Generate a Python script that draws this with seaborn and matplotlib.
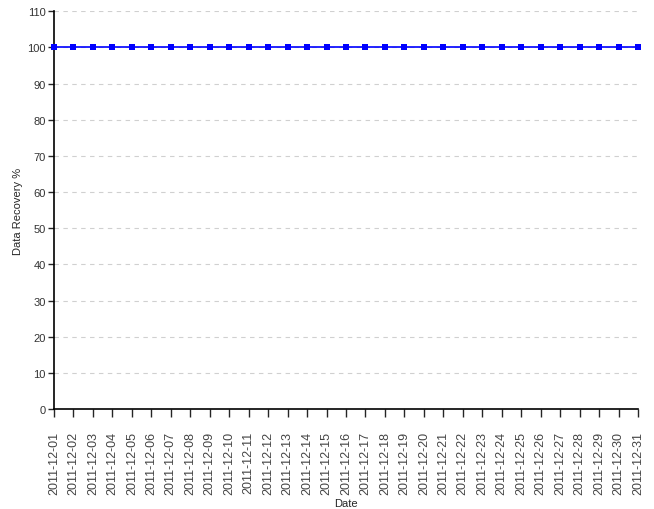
import pandas as pd
import numpy as np
import matplotlib
matplotlib.use("Agg")
import matplotlib.pyplot as plt
import seaborn as sns

# data
dates = ['2011-12-%02d' % d for d in range(1, 32)]
recovery = [100, 100, 100, 100, 100, 100, 100, 100, 100, 100,
            100, 100, 100, 100, 100, 100, 100, 100, 100, 100,
            100, 100, 100, 100, 100, 100, 100, 100, 100, 100, 100]
y_ticks = [0, 10, 20, 30, 40, 50, 60, 70, 80, 90, 100, 110]

df = pd.DataFrame({'Date': dates, 'Recovery': recovery})

sns.set_style("white")
plt.rcParams['font.family'] = ['Liberation Sans', 'DejaVu Sans']

fig, ax = plt.subplots(figsize=(6.54, 5.10), dpi=100)
fig.subplots_adjust(left=0.0826, right=0.9755, top=0.976, bottom=0.196)

sns.lineplot(ax=ax, data=df, x='Date', y='Recovery', color='#0000ff',
             marker='s', markersize=4, markeredgewidth=0, linewidth=1.2,
             errorbar=None, zorder=3, clip_on=False)

ax.set_xlim(0, len(dates) - 1)
ax.set_ylim(0, 110)
ax.set_yticks(y_ticks)
ax.yaxis.grid(True, linestyle=(0, (4, 4)), color='#d0d0d0', linewidth=0.8)
ax.set_axisbelow(True)

ax.set_xticks(range(len(dates)))
ax.set_xticklabels(dates, rotation=90, fontsize=9, color='#444444')
ax.tick_params(axis='y', labelsize=8, labelcolor='#333333', length=4.5, width=1, direction='out', left=True, pad=1.5)
ax.tick_params(axis='x', length=5.5, width=1, direction='out', bottom=True, pad=10)

ax.set_xlabel('Date', fontsize=8, labelpad=3)
ax.set_ylabel('Data Recovery %', fontsize=8, labelpad=3)

sns.despine(ax=ax)
for s in ['left', 'bottom']:
    ax.spines[s].set_color('black')
    ax.spines[s].set_linewidth(1.2)

plt.savefig('out.png', dpi=100)
